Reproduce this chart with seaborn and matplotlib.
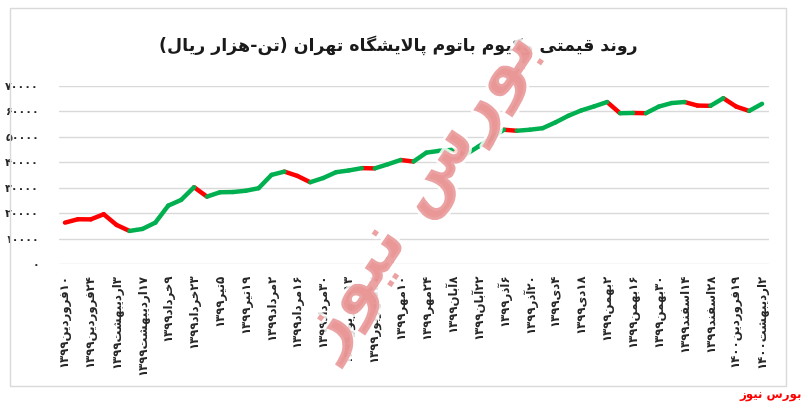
import re
import matplotlib
matplotlib.use("Agg")
import matplotlib.pyplot as plt
import matplotlib.patheffects as pe
from matplotlib.patches import Rectangle
import numpy as np
import pandas as pd
import seaborn as sns

# Data (thousand rial per ton), one point per week
prices = [16260, 17600, 17550, 19570, 15350, 13000, 13780, 16260, 22950, 25200,
          30200, 26500, 28200, 28300, 28800, 29800, 35040, 36340, 34650, 32160,
          33800, 36100, 36800, 37700, 37600, 39200, 40900, 40300, 43800, 44500,
          44900, 42900, 46100, 49400, 52800, 52400, 52800, 53400, 55700, 58300,
          60400, 62000, 63700, 59300, 59400, 59300, 61900, 63300, 63700, 62300,
          62200, 65200, 61900, 60200, 63000]

# colour of each segment as drawn in the source (R = red, G = green)
trend = ("RRRRR" "GGGGG" "R" "GGGGGG" "RR" "GGGG" "R" "GG" "R" "GGG" "R" "GGG" "R"
         "GGGGGGG" "R" "G" "R" "GGG" "RR" "G" "RR" "G")

# labels every other week
date_labels = [
    "۱۰فروردین۱۳۹۹", "۲۴فروردین۱۳۹۹", "۳اردیبهشت۱۳۹۹", "۱۷اردیبهشت۱۳۹۹",
    "۹خرداد۱۳۹۹", "۲۳خرداد۱۳۹۹", "۵تیر۱۳۹۹", "۱۹تیر۱۳۹۹", "۲مرداد۱۳۹۹",
    "۱۶مرداد۱۳۹۹", "۳۰مرداد۱۳۹۹", "۱۳شهریور۱۳۹۹", "۲۷شهریور۱۳۹۹", "۱۰مهر۱۳۹۹",
    "۲۴مهر۱۳۹۹", "۸آبان۱۳۹۹", "۲۲آبان۱۳۹۹", "۶آذر۱۳۹۹", "۲۰آذر۱۳۹۹",
    "۴دی۱۳۹۹", "۱۸دی۱۳۹۹", "۲بهمن۱۳۹۹", "۱۶بهمن۱۳۹۹", "۳۰بهمن۱۳۹۹",
    "۱۴اسفند۱۳۹۹", "۲۸اسفند۱۳۹۹", "۱۹فروردین۱۴۰۰", "۲اردیبهشت۱۴۰۰",
]

title = "روند قیمتی وکیوم باتوم پالایشگاه تهران (تن-هزار ریال)"
brand = "بورس نیوز"

# --- minimal Persian shaping, matplotlib has no RTL support ---
FORMS = {
    'ا': ('\uFE8D', '\uFE8E', None, None),
    'آ': ('\uFE81', '\uFE82', None, None),
    'ب': ('\uFE8F', '\uFE90', '\uFE91', '\uFE92'),
    'پ': ('\uFB56', '\uFB57', '\uFB58', '\uFB59'),
    'ت': ('\uFE95', '\uFE96', '\uFE97', '\uFE98'),
    'خ': ('\uFEA5', '\uFEA6', '\uFEA7', '\uFEA8'),
    'د': ('\uFEA9', '\uFEAA', None, None),
    'ذ': ('\uFEAB', '\uFEAC', None, None),
    'ر': ('\uFEAD', '\uFEAE', None, None),
    'ز': ('\uFEAF', '\uFEB0', None, None),
    'س': ('\uFEB1', '\uFEB2', '\uFEB3', '\uFEB4'),
    'ش': ('\uFEB5', '\uFEB6', '\uFEB7', '\uFEB8'),
    'ف': ('\uFED1', '\uFED2', '\uFED3', '\uFED4'),
    'ق': ('\uFED5', '\uFED6', '\uFED7', '\uFED8'),
    'ک': ('\uFB8E', '\uFB8F', '\uFB90', '\uFB91'),
    'گ': ('\uFB92', '\uFB93', '\uFB94', '\uFB95'),
    'ل': ('\uFEDD', '\uFEDE', '\uFEDF', '\uFEE0'),
    'م': ('\uFEE1', '\uFEE2', '\uFEE3', '\uFEE4'),
    'ن': ('\uFEE5', '\uFEE6', '\uFEE7', '\uFEE8'),
    'و': ('\uFEED', '\uFEEE', None, None),
    'ه': ('\uFEE9', '\uFEEA', '\uFEEB', '\uFEEC'),
    'ی': ('\uFBFC', '\uFBFD', '\uFBFE', '\uFBFF'),
}


def dual(c):
    return c in FORMS and FORMS[c][2] is not None


def shape(s):
    out = []
    i = 0
    while i < len(s):
        c = s[i]
        if c not in FORMS:
            out.append(c)
            i += 1
            continue
        joins_prev = i > 0 and dual(s[i - 1])
        if c == 'ل' and i + 1 < len(s) and s[i + 1] in 'اآ':
            lig = {'ا': ('\uFEFB', '\uFEFC'), 'آ': ('\uFEF5', '\uFEF6')}[s[i + 1]]
            out.append(lig[1] if joins_prev else lig[0])
            i += 2
            continue
        joins_next = dual(c) and i + 1 < len(s) and s[i + 1] in FORMS
        iso, fin, ini, med = FORMS[c]
        if joins_prev and joins_next:
            out.append(med)
        elif joins_prev:
            out.append(fin)
        elif joins_next:
            out.append(ini)
        else:
            out.append(iso)
        i += 1
    return ''.join(out)


def rtl(s):
    vis = shape(s)[::-1]
    vis = re.sub(r'[0-9۰-۹]+', lambda m: m.group(0)[::-1], vis)
    return vis.translate(str.maketrans('()', ')('))


def fa_digits(v):
    return str(int(v)).translate(str.maketrans('0123456789', '۰۱۲۳۴۵۶۷۸۹'))


# segments table for seaborn
rows = []
for k in range(len(prices) - 1):
    for j in (k, k + 1):
        rows.append({'x': j, 'price': prices[j], 'seg': k,
                     'dir': 'up' if trend[k] == 'G' else 'down'})
seg_df = pd.DataFrame(rows)

sns.set_style("white")
plt.rcParams['font.family'] = ['DejaVu Sans']

fig = plt.figure(figsize=(8.09, 4.08), dpi=100)
ax = fig.add_axes([58.5 / 809, 144 / 408, 710 / 809, 178 / 408])

sns.lineplot(data=seg_df, x='x', y='price', units='seg', hue='dir',
             palette={'up': '#00b050', 'down': '#ff0000'}, estimator=None,
             linewidth=3.2, legend=False, ax=ax, solid_capstyle='round')

ax.set_xlim(-0.5, len(prices) - 0.5)
ax.set_ylim(0, 70000)
ax.set_yticks(range(0, 70001, 10000))
ax.set_yticklabels([fa_digits(v) for v in range(0, 70001, 10000)],
                   fontsize=8, fontweight='bold')
ax.set_xticks(range(0, len(prices), 2))
ax.set_xticklabels([rtl(t) for t in date_labels], rotation=90,
                   fontsize=8.5, fontweight='bold', va='top')
ax.tick_params(axis='y', length=0, pad=14)
ax.tick_params(axis='x', length=0, pad=7)
ax.grid(axis='y', color='#d9d9d9', linewidth=1)
ax.set_axisbelow(True)
for sp in ax.spines.values():
    sp.set_visible(False)
ax.set_xlabel('')
ax.set_ylabel('')

# chart frame
fig.patches.append(Rectangle((10 / 809, 22 / 408), 776 / 809, 378 / 408,
                             transform=fig.transFigure, fill=False,
                             edgecolor='#d9d9d9', linewidth=1))

fig.text(398 / 809, 1 - 45 / 408, rtl(title), ha='center', va='center',
         fontsize=12.5, fontweight='bold', color='#1a1a1a')

# watermark
fig.text(420 / 809, 1 - 192 / 408, rtl(brand), ha='center', va='center',
         fontsize=51, fontweight='bold', color='#e99595', alpha=0.85,
         rotation=56, zorder=10,
         path_effects=[pe.withStroke(linewidth=4, foreground='white')])

fig.text(802 / 809, 1 - 396 / 408, rtl(brand), ha='right', va='center',
         fontsize=8.5, fontweight='bold', color='#ff0000')

fig.savefig("out.png", dpi=100)
